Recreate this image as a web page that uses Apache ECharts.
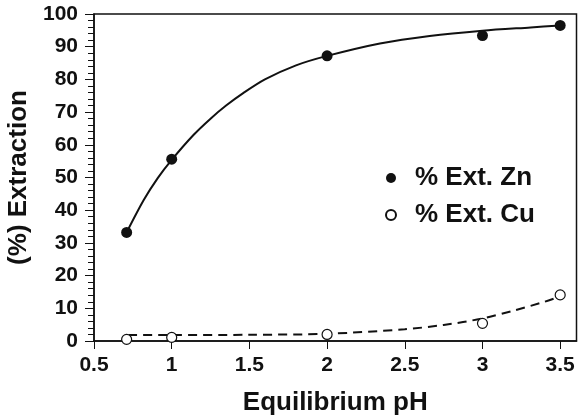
<!DOCTYPE html>
<html>
<head>
<meta charset="utf-8">
<script src="https://cdn.jsdelivr.net/npm/echarts@6/dist/echarts.min.js"></script>
<style>html,body{margin:0;padding:0;background:#fff;}#c{width:578px;height:417px;}</style>
</head>
<body>
<div id="c"></div>
<script>
// Measured points
var phPoints = [0.71, 1.0, 2.0, 3.0, 3.5];
var znExt = [33.2, 55.6, 87.2, 93.4, 96.5];
var cuExt = [0.5, 1.1, 2.0, 5.4, 14.1];
// Fitted curves
var znFitX = [0.71, 0.82, 0.91, 1.0, 1.14, 1.25, 1.35, 1.46, 1.6, 1.8, 2.0, 2.34, 2.66, 3.0, 3.31, 3.5];
var znFitY = [33.2, 43.1, 49.8, 55.4, 63.0, 68.0, 72.0, 75.8, 80.0, 84.3, 87.2, 91.0, 93.3, 94.9, 95.9, 96.5];
var cuFitX = [0.72, 1.0, 1.5, 2.0, 2.5, 2.75, 3.0, 3.2, 3.4, 3.5];
var cuFitY = [1.8, 1.8, 1.9, 2.2, 3.6, 4.9, 6.9, 9.3, 12.0, 13.6];
var xTicks = [0.5, 1, 1.5, 2, 2.5, 3, 3.5];
var yTicks = [0, 10, 20, 30, 40, 50, 60, 70, 80, 90, 100];
var seriesNames = ['% Ext. Zn', '% Ext. Cu'];

function pairs(xs, ys) { return xs.map(function (x, i) { return [x, ys[i]]; }); }

var font = 'Liberation Sans, Arial, sans-serif';
var ink = '#111111';
var chart = echarts.init(document.getElementById('c'));
chart.setOption({
  animation: false,
  backgroundColor: '#fff',
  grid: { left: 94, right: 1.5, top: 14, bottom: 76, show: true, borderColor: ink, borderWidth: 1.5,
    containLabel: false, outerBoundsMode: 'none' },
  legend: {
    orient: 'vertical', left: 385, top: 165, padding: 0, itemWidth: 10, itemHeight: 10, itemGap: 11,
    icon: 'circle',
    textStyle: { fontFamily: font, fontWeight: 'bold', fontSize: 26, color: ink, padding: [0, 0, 0, 14] },
    data: seriesNames
  },
  xAxis: {
    type: 'value', min: 0.5, max: 3.605,
    name: 'Equilibrium pH', nameLocation: 'middle', nameGap: 49,
    nameTextStyle: { fontFamily: font, fontWeight: 'bold', fontSize: 26, color: ink },
    axisLine: { lineStyle: { color: ink, width: 1.5 } },
    axisTick: { length: 8, lineStyle: { color: ink, width: 1 }, customValues: xTicks },
    axisLabel: { fontFamily: font, fontWeight: 'bold', fontSize: 21, color: ink, margin: 14, customValues: xTicks },
    splitLine: { show: false }
  },
  yAxis: {
    type: 'value', min: 0, max: 100, interval: 10,
    name: '(%) Extraction', nameLocation: 'middle', nameGap: 47,
    nameTextStyle: { fontFamily: font, fontWeight: 'bold', fontSize: 26, color: ink },
    axisLine: { show: true, lineStyle: { color: ink, width: 1.5 } },
    axisTick: { show: true, length: 9, lineStyle: { color: ink, width: 1 } },
    minorTick: { show: true, splitNumber: 5, length: 6, lineStyle: { color: ink, width: 1 } },
    axisLabel: { fontFamily: font, fontWeight: 'bold', fontSize: 21, color: ink, margin: 16,
      formatter: function (v) { return yTicks.indexOf(v) >= 0 ? String(v) : ''; } },
    splitLine: { show: false }
  },
  series: [
    { name: 'znFit', type: 'line', data: pairs(znFitX, znFitY), smooth: 0.3, showSymbol: false, symbol: 'none',
      lineStyle: { color: ink, width: 2 }, silent: true, z: 2 },
    { name: 'cuFit', type: 'line', data: pairs(cuFitX, cuFitY), smooth: 0.3, showSymbol: false, symbol: 'none',
      lineStyle: { color: ink, width: 2, type: [9, 6] }, silent: true, z: 2 },
    { name: seriesNames[0], type: 'scatter', data: pairs(phPoints, znExt), symbol: 'circle', symbolSize: 11,
      itemStyle: { color: ink, borderColor: ink, borderWidth: 0, opacity: 1 }, z: 3 },
    { name: seriesNames[1], type: 'scatter', data: pairs(phPoints, cuExt), symbol: 'circle', symbolSize: 10,
      itemStyle: { color: '#fff', borderColor: ink, borderWidth: 1.2, opacity: 1 }, z: 3 }
  ]
});
</script>
</body>
</html>
